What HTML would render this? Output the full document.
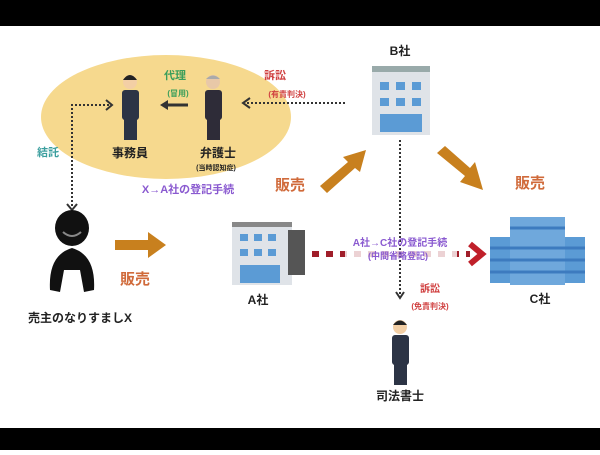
<!DOCTYPE html>
<html><head><meta charset="utf-8"><style>
body{margin:0;width:600px;height:450px;background:#fff;overflow:hidden;font-family:"Liberation Sans","Noto Sans CJK JP",sans-serif}
svg text{font-family:"Liberation Sans","Noto Sans CJK JP",sans-serif;font-weight:bold;text-anchor:middle}
</style></head><body>
<svg width="600" height="450" viewBox="0 0 600 450">
<rect x="0" y="0" width="600" height="26" fill="#000"/>
<rect x="0" y="428" width="600" height="22" fill="#000"/>
<ellipse cx="166" cy="117" rx="125" ry="62" fill="#f6d98e"/>
<g stroke="#333" stroke-width="2" stroke-dasharray="2,2" fill="none">
<path d="M72 206 V105 H110"/>
<path d="M345 103 H245"/>
<path d="M400 140 V296"/>
</g>
<path d="M106 100 L112 105 L106 110" stroke="#333" stroke-width="2" fill="none"/>
<path d="M250 98 L243 103 L250 108" stroke="#333" stroke-width="2" fill="none"/>
<path d="M67 204 L72 210 L77 204" stroke="#333" stroke-width="2" fill="none"/>
<path d="M396 292 L400 298 L404 292" stroke="#333" stroke-width="2" fill="none"/>
<line x1="188" y1="105" x2="163" y2="105" stroke="#333" stroke-width="3"/>
<path d="M168 100 L160 105 L168 110Z" fill="#333"/>
<g>
<circle cx="130" cy="82" r="7" fill="#f3cfa5"/><path d="M123 80 Q130 70 137 80Z" fill="#222"/>
<rect x="122" y="90" width="17" height="30" rx="3" fill="#2c3445"/><rect x="124" y="118" width="13" height="22" fill="#2c3445"/>
<circle cx="213" cy="82" r="7" fill="#e8c8a8"/><path d="M206 79 Q213 72 220 79Z" fill="#aaa"/>
<rect x="205" y="90" width="17" height="30" rx="3" fill="#2e2c38"/><rect x="207" y="118" width="13" height="22" fill="#2e2c38"/>
<circle cx="400" cy="327" r="7" fill="#f3cfa5"/><path d="M393 325 Q400 316 407 325Z" fill="#222"/>
<rect x="392" y="335" width="17" height="30" rx="3" fill="#2c3445"/><rect x="394" y="363" width="13" height="22" fill="#2c3445"/>
</g>
<ellipse cx="72" cy="228" rx="17" ry="18" fill="#111"/>
<path d="M50 290 Q48 255 72 248 Q96 255 94 290 L84 292 L80 270 L64 270 L60 292Z" fill="#111"/>
<path d="M63 232 Q72 240 81 232" stroke="#888" stroke-width="2" fill="none"/>
<g fill="#c8801e">
<polygon points="115,240 148,240 148,232 166,245 148,258 148,250 115,250"/>
<polygon points="320,186 348,162 343,157 366,150 360,172 355,168 327,193"/>
<polygon points="437,153 445,146 470,168 475,162 483,190 460,182 465,176"/>
</g>
<rect x="372" y="70" width="58" height="65" fill="#dfe3e8"/>
<rect x="372" y="66" width="58" height="6" fill="#9aa"/>
<g fill="#5b9bd5"><rect x="380" y="82" width="9" height="8"/><rect x="396" y="82" width="9" height="8"/><rect x="412" y="82" width="9" height="8"/>
<rect x="380" y="98" width="9" height="8"/><rect x="396" y="98" width="9" height="8"/><rect x="412" y="98" width="9" height="8"/>
<rect x="380" y="114" width="42" height="18"/></g>
<rect x="232" y="225" width="60" height="60" fill="#dfe3e8"/>
<rect x="232" y="222" width="60" height="5" fill="#888"/>
<rect x="288" y="230" width="17" height="45" fill="#555"/>
<g fill="#5b9bd5"><rect x="240" y="234" width="8" height="7"/><rect x="254" y="234" width="8" height="7"/><rect x="268" y="234" width="8" height="7"/>
<rect x="240" y="249" width="8" height="7"/><rect x="254" y="249" width="8" height="7"/><rect x="268" y="249" width="8" height="7"/>
<rect x="240" y="265" width="40" height="18"/></g>
<rect x="490" y="237" width="95" height="46" fill="#5b9bd5"/>
<rect x="510" y="217" width="55" height="68" fill="#6fa8dc"/>
<g stroke="#3d7bbf" stroke-width="3"><line x1="490" y1="248" x2="585" y2="248"/><line x1="490" y1="260" x2="585" y2="260"/><line x1="490" y1="272" x2="585" y2="272"/><line x1="510" y1="228" x2="565" y2="228"/></g>
<line x1="312" y1="254" x2="470" y2="254" stroke="#a01e2a" stroke-width="6" stroke-dasharray="7,7"/>
<rect x="345" y="236" width="112" height="28" fill="#fff" opacity="0.8"/>
<line x1="400" y1="236" x2="400" y2="264" stroke="#333" stroke-width="2" stroke-dasharray="2,2"/>
<polyline points="470,244 482,254 470,264" stroke="#c0202a" stroke-width="6" fill="none"/>
<text x="175" y="79" font-size="11" fill="#3a9e5a">代理</text>
<text x="178" y="96" font-size="8" fill="#3a9e5a">(冒用)</text>
<text x="275" y="79" font-size="11" fill="#d04040">訴訟</text>
<text x="287" y="97" font-size="8" fill="#d04040">(有責判決)</text>
<text x="130" y="157" font-size="12" fill="#222">事務員</text>
<text x="218" y="157" font-size="12" fill="#222">弁護士</text>
<text x="216" y="170" font-size="7" fill="#222">(当時認知症)</text>
<text x="48" y="156" font-size="11" fill="#3a9e9e">結託</text>
<text x="188" y="193" font-size="11" fill="#8a5ad0">X→A社の登記手続</text>
<text x="290" y="190" font-size="15" fill="#d06a3a">販売</text>
<text x="530" y="188" font-size="15" fill="#d06a3a">販売</text>
<text x="135" y="284" font-size="15" fill="#d06a3a">販売</text>
<text x="400" y="55" font-size="12" fill="#222">B社</text>
<text x="258" y="304" font-size="12" fill="#222">A社</text>
<text x="540" y="303" font-size="12" fill="#222">C社</text>
<text x="80" y="322" font-size="12" fill="#222">売主のなりすましX</text>
<text x="400" y="246" font-size="10" fill="#8a5ad0">A社→C社の登記手続</text>
<text x="398" y="259" font-size="9" fill="#8a5ad0">(中間省略登記)</text>
<text x="430" y="292" font-size="10" fill="#d04040">訴訟</text>
<text x="430" y="309" font-size="8" fill="#d04040">(免責判決)</text>
<text x="400" y="400" font-size="12" fill="#222">司法書士</text>
</svg>
</body></html>
